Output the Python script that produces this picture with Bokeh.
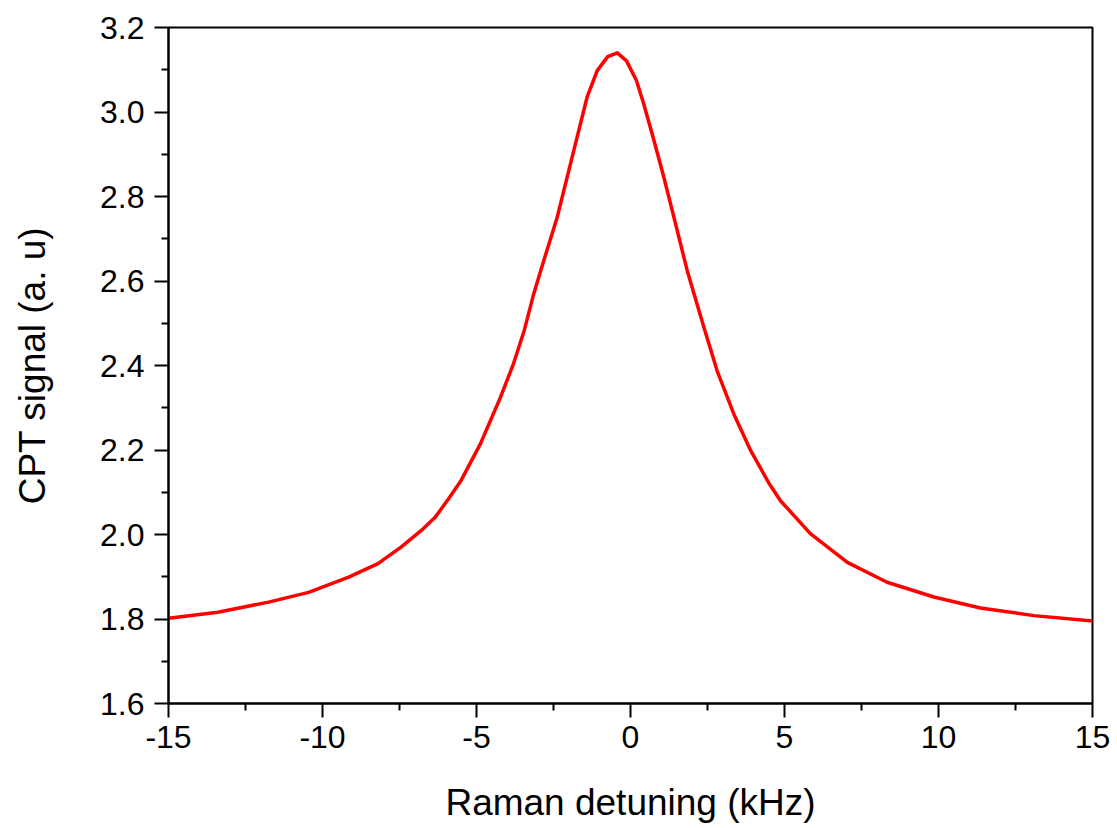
from bokeh.plotting import figure
from bokeh.models import FixedTicker, Range1d, ColumnDataSource, CustomJSTickFormatter
from bokeh.embed import file_html
from bokeh.resources import INLINE

# Data
detuning_khz = [-15.0, -13.4, -11.75, -10.45, -9.15, -8.2, -7.45, -6.8, -6.35, -5.9,
                -5.5, -4.87, -4.22, -3.8, -3.45, -3.14, -2.85, -2.38, -1.84, -1.41,
                -1.08, -0.74, -0.43, -0.13, 0.19, 0.43, 0.76, 1.08, 1.41, 1.84,
                2.38, 2.81, 3.35, 3.9, 4.49, 4.87, 5.84, 7.04, 8.33, 9.85,
                11.36, 13.1, 15.0]
cpt_signal = [1.802, 1.816, 1.840, 1.863, 1.899, 1.931, 1.970, 2.009, 2.040, 2.085,
              2.128, 2.215, 2.325, 2.404, 2.483, 2.570, 2.640, 2.751, 2.909, 3.035,
              3.098, 3.131, 3.140, 3.121, 3.075, 3.019, 2.933, 2.846, 2.751, 2.625,
              2.491, 2.388, 2.286, 2.199, 2.122, 2.080, 2.002, 1.934, 1.887, 1.852,
              1.826, 1.808, 1.795]

x_ticks = [-15, -10, -5, 0, 5, 10, 15]
x_minor = [-12.5, -7.5, -2.5, 2.5, 7.5, 12.5]
y_ticks = [1.6, 1.8, 2.0, 2.2, 2.4, 2.6, 2.8, 3.0, 3.2]
y_minor = [1.7, 1.9, 2.1, 2.3, 2.5, 2.7, 2.9, 3.1]
x_title = "Raman detuning (kHz)"
y_title = "CPT signal (a. u)"

FONT = "Liberation Sans"

p = figure(width=1117, height=828, output_backend="svg", toolbar_location=None,
           x_range=Range1d(-15, 15), y_range=Range1d(1.6, 3.2),
           min_border_left=168, min_border_right=25, min_border_top=27,
           min_border_bottom=125)

src = ColumnDataSource(data=dict(x=detuning_khz, y=cpt_signal))
p.line("x", "y", source=src, line_color="#ff0000", line_width=3.5,
       line_join="round")

p.xgrid.visible = False
p.ygrid.visible = False
p.outline_line_color = "black"
p.outline_line_width = 2
p.outline_line_alpha = 1.0

p.xaxis.ticker = FixedTicker(ticks=x_ticks, minor_ticks=x_minor)
p.yaxis.ticker = FixedTicker(ticks=y_ticks, minor_ticks=y_minor)
p.yaxis.formatter = CustomJSTickFormatter(code="return tick.toFixed(1);")
p.xaxis.formatter = CustomJSTickFormatter(code="return tick.toFixed(0);")

for ax in (p.xaxis[0], p.yaxis[0]):
    ax.axis_line_color = "black"
    ax.axis_line_width = 2
    ax.major_tick_line_color = "black"
    ax.major_tick_line_width = 2
    ax.minor_tick_line_color = "black"
    ax.minor_tick_line_width = 2
    ax.major_tick_out = 14
    ax.major_tick_in = 0
    ax.minor_tick_out = 7
    ax.minor_tick_in = 0
    ax.major_label_text_font = FONT
    ax.major_label_text_font_size = "32px"
    ax.major_label_text_color = "black"
    ax.axis_label_text_font = FONT
    ax.axis_label_text_font_size = "37px"
    ax.axis_label_text_font_style = "normal"
    ax.axis_label_text_color = "black"

p.xaxis.axis_label = x_title
p.yaxis.axis_label = y_title
p.xaxis.major_label_standoff = 8
p.yaxis.major_label_standoff = 10
p.xaxis.axis_label_standoff = 31
p.yaxis.axis_label_standoff = 44

open("out.html", "w").write(file_html(p, INLINE))
